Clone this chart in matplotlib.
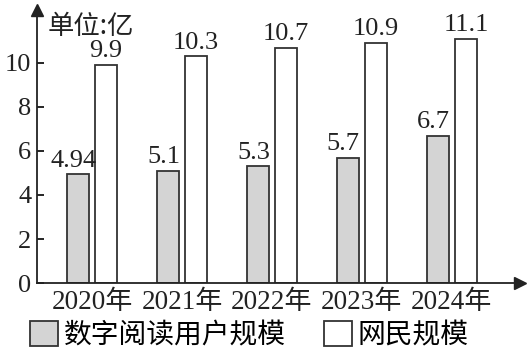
import matplotlib.pyplot as plt
import numpy as np
from matplotlib.patches import Patch

years = ['2020年', '2021年', '2022年', '2023年', '2024年']
reading_users = [4.94, 5.1, 5.3, 5.7, 6.7]
netizens = [9.9, 10.3, 10.7, 10.9, 11.1]
reading_labels = ['4.94', '5.1', '5.3', '5.7', '6.7']
netizen_labels = ['9.9', '10.3', '10.7', '10.9', '11.1']
y_ticks = [0, 2, 4, 6, 8, 10]

SERIF = ['Liberation Serif', 'Noto Sans CJK SC']
CJK = ['Noto Sans CJK SC', 'DejaVu Sans']

fig = plt.figure(figsize=(5.27, 3.61), dpi=100)
ax = fig.add_axes([0.0702, 0.216, 0.917, 0.756])

x = np.arange(len(years))
w = 0.244
off = 0.156
b1 = ax.bar(x - off, reading_users, w, color='#d4d4d4', edgecolor='#333333', linewidth=1.3)
b2 = ax.bar(x + off, netizens, w, color='white', edgecolor='#333333', linewidth=1.3)

for bar, lab in zip(b1, reading_labels):
    ax.text(bar.get_x() + bar.get_width() / 2 - 0.05, bar.get_height() + 0.12, lab,
            ha='center', va='bottom', fontsize=19, family=SERIF, color='#222222')
for bar, lab in zip(b2, netizen_labels):
    ax.text(bar.get_x() + bar.get_width() / 2, bar.get_height() + 0.12, lab,
            ha='center', va='bottom', fontsize=19, family=SERIF, color='#222222')

ax.set_xlim(-0.611, 4.76)
ax.set_ylim(0, 12.4)
ax.set_xticks(x)
ax.set_xticklabels(years, family=SERIF, fontsize=19.5, color='#222222')
ax.set_yticks(y_ticks)
ax.set_yticklabels([str(t) for t in y_ticks], family=SERIF, fontsize=19, color='#222222')
ax.tick_params(axis='x', length=0, pad=5)
ax.tick_params(axis='y', direction='in', length=5, width=1.2, pad=4)

for s in ['top', 'right']:
    ax.spines[s].set_visible(False)
for s in ['left', 'bottom']:
    ax.spines[s].set_linewidth(1.3)
    ax.spines[s].set_color('#222222')

# axis arrows
ax.plot(0, 1, '^', color='#222222', markersize=8, transform=ax.transAxes, clip_on=False)
ax.plot(1, 0, '>', color='#222222', markersize=8, transform=ax.transAxes, clip_on=False)

ax.text(0.022, 0.99, '单位:亿', transform=ax.transAxes, ha='left', va='top',
        fontsize=19, family=CJK, color='#222222')

handles = [Patch(facecolor='#d4d4d4', edgecolor='#333333', linewidth=1.3),
           Patch(facecolor='white', edgecolor='#333333', linewidth=1.3)]
fig.legend(handles, ['数字阅读用户规模', '网民规模'], loc='lower left',
           bbox_to_anchor=(0.01, -0.04), ncol=2, frameon=False,
           prop={'family': CJK, 'size': 20}, handlelength=1.0, handleheight=1.0,
           handletextpad=0.2, columnspacing=1.4)

fig.savefig('out.png', dpi=100)
